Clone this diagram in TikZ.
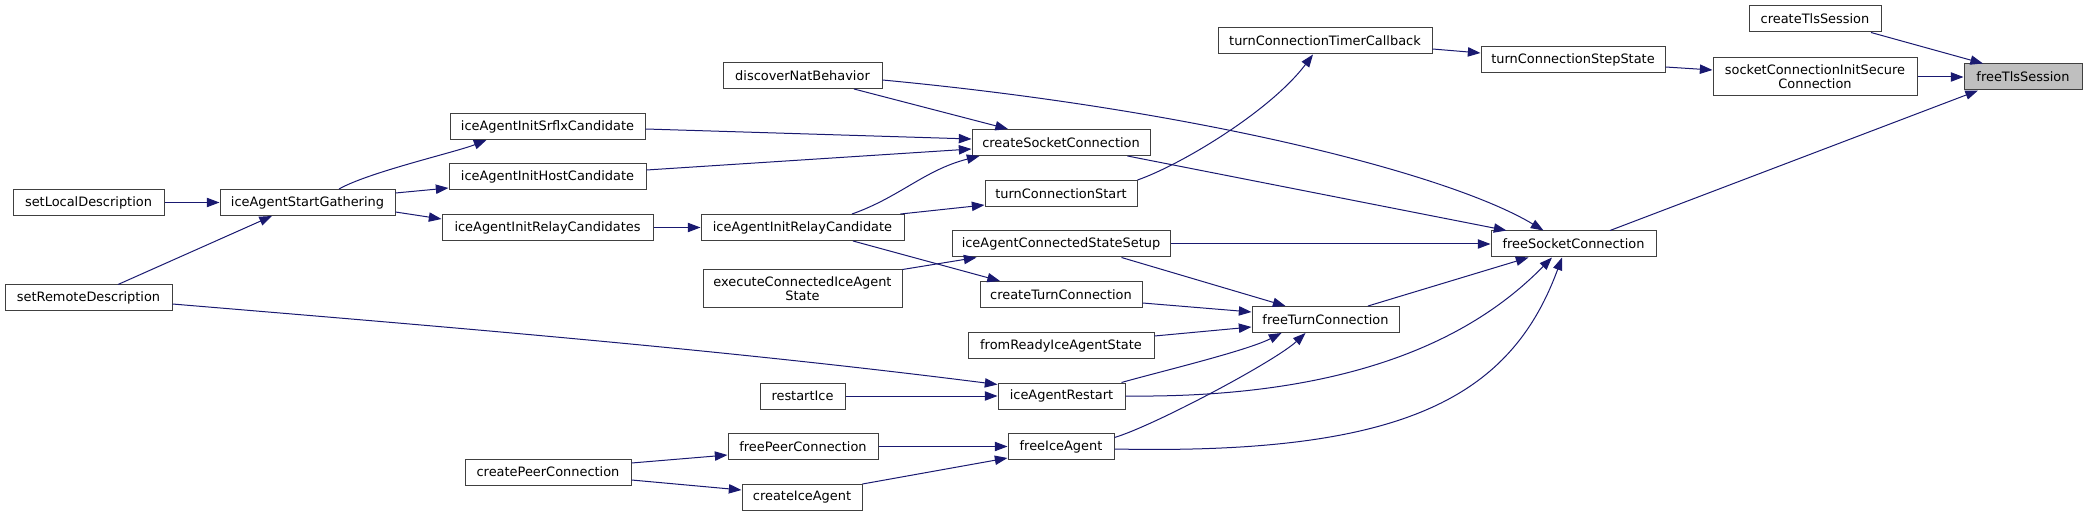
\documentclass[tikz,border=0pt]{standalone}
\usepackage{fontspec}
\setmainfont{DejaVu Sans}
\usetikzlibrary{arrows.meta,calc}
\definecolor{edgeblue}{HTML}{191970}
\definecolor{boxline}{HTML}{404040}
\definecolor{hilite}{HTML}{BFBFBF}
\begin{document}
\begin{tikzpicture}[x=0.75pt,y=-0.75pt,
  fn/.style={draw=boxline, line width=0.75pt, fill=white, inner sep=0pt,
    minimum height=26*0.75pt, font=\fontsize{9.7}{10.5}\selectfont, align=center},
  twoline/.style={minimum height=38*0.75pt},
  bw/.style={minimum width=#1*0.75pt},
  e/.style={draw=edgeblue, line width=0.75pt, -{Triangle[length=9.5pt,width=7pt]}}]
\useasboundingbox (0,0) rectangle (2087,516);

% nodes
\node[fn,bw=118,fill=hilite] (tls) at (2023,77) {freeTlsSession};
\node[fn,bw=132] (ctls) at (1815,19) {createTlsSession};
\node[fn,bw=204,twoline] (sics) at (1815,77) {socketConnectionInitSecure\\Connection};
\node[fn,bw=184] (tcss) at (1573,60) {turnConnectionStepState};
\node[fn,bw=214] (tctc) at (1325,41) {turnConnectionTimerCallback};
\node[fn,bw=159] (dnb) at (802.5,75.5) {discoverNatBehavior};
\node[fn,bw=195] (srflx) at (547.5,126.5) {iceAgentInitSrflxCandidate};
\node[fn,bw=178] (csc) at (1061,142.5) {createSocketConnection};
\node[fn,bw=197] (host) at (547.5,177) {iceAgentInitHostCandidate};
\node[fn,bw=151] (sld) at (88.5,202.5) {setLocalDescription};
\node[fn,bw=175] (sg) at (307.5,202.5) {iceAgentStartGathering};
\node[fn,bw=152] (tcs) at (1061,193.5) {turnConnectionStart};
\node[fn,bw=211] (rcs) at (547.5,227.5) {iceAgentInitRelayCandidates};
\node[fn,bw=203] (rc) at (802.5,227.5) {iceAgentInitRelayCandidate};
\node[fn,bw=218] (cssetup) at (1061,244) {iceAgentConnectedStateSetup};
\node[fn,bw=165] (fsc) at (1573.5,244) {freeSocketConnection};
\node[fn,bw=199,twoline] (exec) at (802.5,289) {executeConnectedIceAgent\\State};
\node[fn,bw=167] (srd) at (88.5,298) {setRemoteDescription};
\node[fn,bw=162] (ctc) at (1061,294.5) {createTurnConnection};
\node[fn,bw=147] (ftc) at (1325.5,319.5) {freeTurnConnection};
\node[fn,bw=186] (fr) at (1061,345.5) {fromReadyIceAgentState};
\node[fn,bw=85] (ri) at (802.5,396) {restartIce};
\node[fn,bw=127] (iar) at (1061.5,396) {iceAgentRestart};
\node[fn,bw=150] (fpc) at (803,446.5) {freePeerConnection};
\node[fn,bw=106] (fia) at (1061,446.5) {freeIceAgent};
\node[fn,bw=166] (cpc) at (548,472) {createPeerConnection};
\node[fn,bw=120] (cia) at (802,497.5) {createIceAgent};

% edges
\draw[e] ($(ctls.south)+(56,0)$) -- ($(tls.north)+(-40,0)$);
\draw[e] (sics.east) -- (tls.west);
\draw[e] ($(fsc.north)+(36.5,0)$) -- ($(tls.south)+(-45,0)$);
\draw[e] ($(tcss.east)+(0,7)$) -- ($(sics.west)+(0,-7)$);
\draw[e] ($(tctc.east)+(0,8)$) -- ($(tcss.west)+(0,-7)$);
\draw[e] (tcs.north east) .. controls +(43,-15) and +(-43,57) .. ($(tctc.south)+(-12,0)$);
\draw[e] ($(dnb.east)+(0,4.5)$) .. controls +(318,30) and +(-93,-56) .. ($(fsc.north)+(-30,0)$);
\draw[e] ($(dnb.south)+(51.5,0)$) -- ($(csc.north)+(-53,0)$);
\draw[e] ($(srflx.east)+(0,2.5)$) -- ($(csc.west)+(0,-3.5)$);
\draw[e] ($(host.east)+(0,-7)$) -- ($(csc.west)+(0,6.5)$);
\draw[e] ($(rc.north)+(49.5,0)$) .. controls +(48,-17) and +(-55,14) .. ($(csc.south west)+(8,0)$);
\draw[e] ($(rc.north east)+(-4,0)$) -- ($(tcs.south west)+(0,-2)$);
\draw[e] ($(rc.south)+(50.5,0)$) -- ($(ctc.north)+(-61,0)$);
\draw[e] (exec.north east) -- ($(cssetup.south west)+(25,0)$);
\draw[e] (rcs.east) -- (rc.west);
\draw[e] ($(csc.south east)+(-23,0)$) -- ($(fsc.north west)+(16,0)$);
\draw[e] (cssetup.east) -- (fsc.west);
\draw[e] ($(cssetup.south east)+(-49,0)$) -- ($(ftc.north west)+(34,0)$);
\draw[e] ($(ctc.east)+(0,8.5)$) -- ($(ftc.west)+(0,-7.5)$);
\draw[e] ($(fr.east)+(0,-9.5)$) -- ($(ftc.west)+(0,7.5)$);
\draw[e] ($(iar.north east)+(-4,0)$) .. controls +(35,-10) and +(-35,18) .. ($(ftc.south west)+(30,0)$);
\draw[e] ($(fia.east)+(0,-9)$) .. controls +(40,-12) and +(-30,28) .. ($(ftc.south)+(-20,0)$);
\draw[e] (iar.east) .. controls +(255,3) and +(-62,63) .. ($(fsc.south)+(-21.5,0)$);
\draw[e] ($(fia.east)+(0,2.5)$) .. controls +(286,6) and +(-52,142) .. ($(fsc.south)+(-11.5,0)$);
\draw[e] ($(ftc.north)+(42.5,0)$) -- ($(fsc.south west)+(38,0)$);
\draw[e] (sld.east) -- (sg.west);
\draw[e] ($(srd.north)+(29.5,0)$) -- ($(sg.south)+(-35.5,0)$);
\draw[e] ($(sg.north)+(31.5,0)$) .. controls +(30,-17) and +(-30,12) .. ($(srflx.south west)+(37,0)$);
\draw[e] ($(sg.east)+(0,-9.5)$) -- ($(host.west)+(0,11)$);
\draw[e] ($(sg.east)+(0,9.5)$) -- ($(rcs.west)+(0,-8.5)$);
\draw[e] ($(srd.east)+(0,6)$) .. controls +(275,23) and +(-275,-35) .. ($(iar.north west)+(0,2)$);
\draw[e] (ri.east) -- (iar.west);
\draw[e] (fpc.east) -- (fia.west);
\draw[e] (cia.north east) -- ($(fia.south west)+(0,-2)$);
\draw[e] ($(cpc.east)+(0,-9)$) -- ($(fpc.west)+(0,8.5)$);
\draw[e] ($(cpc.east)+(0,8)$) -- ($(cia.west)+(0,-7.5)$);
\end{tikzpicture}
\end{document}
